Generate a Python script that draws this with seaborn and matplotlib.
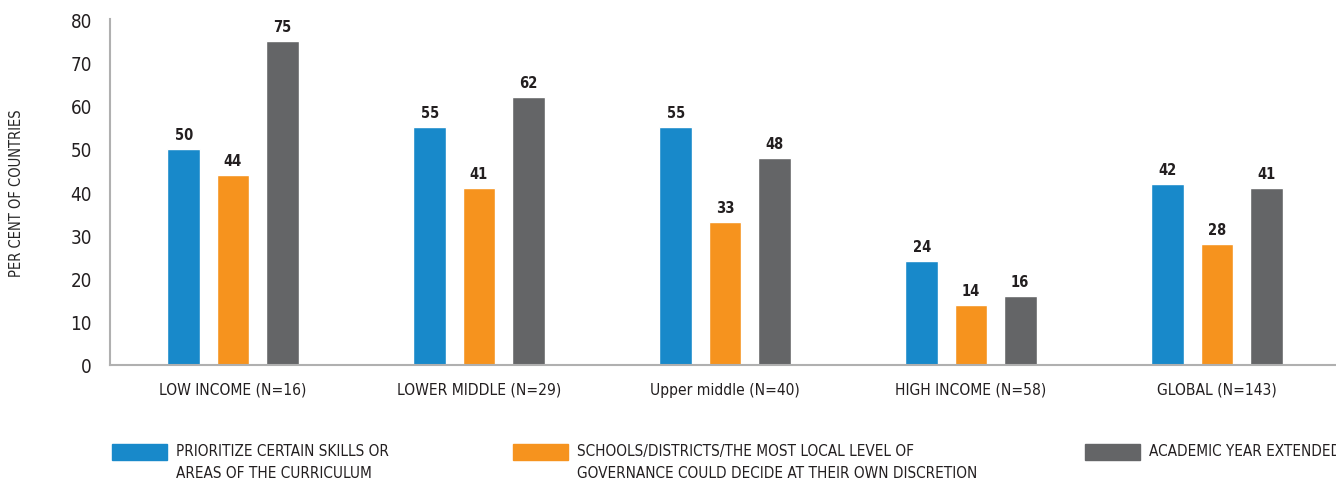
import pandas as pd
import matplotlib.pyplot as plt
import seaborn as sns
from matplotlib.patches import Rectangle

categories = ["LOW INCOME (N=16)", "LOWER MIDDLE (N=29)", "Upper middle (N=40)",
              "HIGH INCOME (N=58)", "GLOBAL (N=143)"]
series_names = ["PRIORITIZE CERTAIN SKILLS OR\nAREAS OF THE CURRICULUM",
                "SCHOOLS/DISTRICTS/THE MOST LOCAL LEVEL OF\nGOVERNANCE COULD DECIDE AT THEIR OWN DISCRETION",
                "ACADEMIC YEAR EXTENDED"]
prioritize = [50, 55, 55, 24, 42]
local_level = [44, 41, 33, 14, 28]
year_extended = [75, 62, 48, 16, 41]
colors = ["#1889ca", "#f6931e", "#646567"]

rows = []
for name, vals in zip(series_names, [prioritize, local_level, year_extended]):
    for cat, v in zip(categories, vals):
        rows.append({"group": cat, "series": name, "value": v})
df = pd.DataFrame(rows)

sns.set_style("white")
# condensed DejaVu face comes closest to the narrow gothic of the original
plt.rcParams['font.family'] = ['DejaVu Sans']
plt.rcParams['font.stretch'] = 'condensed'
plt.rcParams['text.color'] = '#231f20'

fig = plt.figure(figsize=(13.36, 4.81), dpi=100)
ax = fig.add_axes([110 / 1336, 115 / 481, 1230 / 1336, (366 - 20.4) / 481])

sns.barplot(data=df, x="group", y="value", hue="series", palette=colors,
            saturation=1, width=0.6, gap=0.33, legend=False, ax=ax)

for cont in ax.containers:
    ax.bar_label(cont, fmt="%d", padding=5, fontweight="bold", fontsize=10.5,
                 color="#231f20")

ax.set_xlim(-0.5, 4.5)
ax.set_ylim(0, 80)
ax.set_yticks(range(0, 81, 10))
ax.set_xlabel("")
ax.set_ylabel("PER CENT OF COUNTRIES", fontsize=10.5)
ax.yaxis.set_label_coords(-86 / 1230, 0.5)
ax.tick_params(axis="y", length=0, pad=13, labelsize=13.5, labelcolor="#231f20")
ax.tick_params(axis="x", length=0, pad=12, labelsize=11.2, labelcolor="#231f20")

sns.despine(ax=ax, top=True, right=True)
for side in ["left", "bottom"]:
    ax.spines[side].set_color("#b0b0b0")
    ax.spines[side].set_linewidth(1.5)

# legend drawn below the plot, one entry per series
legend_x = [112, 513, 1085]
for x0, name, col in zip(legend_x, series_names, colors):
    fig.add_artist(Rectangle((x0 / 1336, 1 - 461 / 481), 55 / 1336, 16 / 481,
                             transform=fig.transFigure, color=col))
    fig.text((x0 + 64) / 1336, 1 - 444 / 481, name, fontsize=11,
             va="top", ha="left", linespacing=1.62, color="#231f20")

plt.savefig("out.png", dpi=100)
plt.close()
